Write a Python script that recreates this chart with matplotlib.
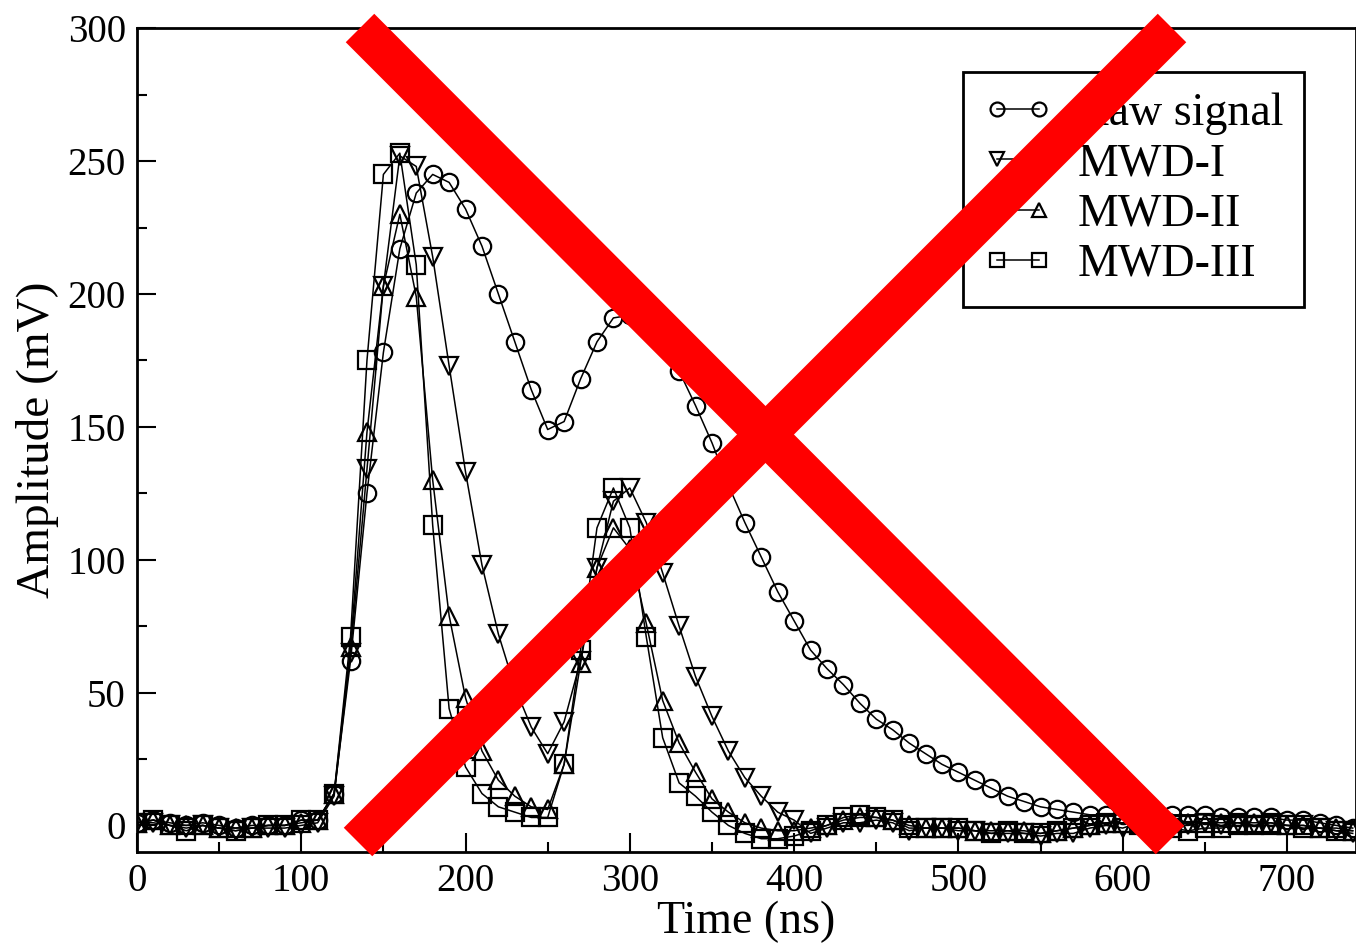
import numpy as np
import matplotlib
matplotlib.use("Agg")
import matplotlib.pyplot as plt
from matplotlib.lines import Line2D
from matplotlib.ticker import MultipleLocator

plt.rcParams['font.family'] = ['Liberation Serif', 'DejaVu Serif']

# sampling times (ns)
time_ns = np.arange(0, 750, 10)

raw_signal = [1, 2, 1, 0, 1, 0, -1, 0, 0, 0, 2, 2, 12, 62, 125, 178, 217, 238, 245, 242,
              232, 218, 200, 182, 164, 149, 152, 168, 182, 191, 192, 188, 181, 171, 158, 144,
              128, 114, 101, 88, 77, 66, 59, 53, 46, 40, 36, 31, 27, 23, 20, 17, 14, 11, 9,
              7, 6, 5, 4, 4, 4, 4, 4, 4, 4, 4, 3, 3, 3, 3, 2, 2, 1, 0, -1]

mwd_1 = [1, 1, 0, -1, 0, -1, -2, -1, -1, -1, 0, 1, 11, 65, 134, 203, 252, 248, 214, 173,
         133, 98, 72, 52, 37, 27, 39, 62, 97, 122, 127, 114, 95, 75, 56, 41,
         28, 18, 11, 5, 2, -3, -1, 1, 1, 2, 1, -2, -1, -1, -2, -2, -3, -3, -3,
         -4, -3, -3, -1, 0, -1, 1, 1, 0, 0, 1, 0, 1, 0, 1, 0, 0, -1, -2, -3]

mwd_2 = [1, 2, 0, 0, 0, -1, -1, -1, 0, 0, 1, 2, 12, 67, 148, 203, 230, 199, 130, 79,
         48, 28, 17, 11, 7, 6, 23, 61, 97, 112, 104, 76, 47, 31, 20, 10,
         5, 1, -1, -2, -2, -1, 0, 2, 3, 3, 2, 0, -1, -1, -1, -2, -2, -2, -2,
         -3, -2, -1, 0, 1, 1, 1, 1, 1, 1, 1, 1, 1, 1, 1, 0, 0, -1, -1, -2]

mwd_3 = [1, 2, 0, -2, 0, -1, -2, -1, 0, 0, 2, 2, 12, 71, 175, 245, 253, 211, 113, 44,
         22, 12, 7, 5, 3, 3, 23, 66, 112, 127, 112, 71, 33, 16, 11, 5,
         0, -3, -5, -5, -4, -2, 0, 3, 4, 3, 2, -1, -1, -1, -1, -2, -3, -2, -3,
         -3, -2, -1, 0, 1, 1, 0, 0, -1, -2, -1, -1, 0, 0, 0, 0, -1, -1, -2, -2]

labels = ['Raw signal', 'MWD-I', 'MWD-II', 'MWD-III']
markers = ['o', 'v', '^', 's']

fig = plt.figure(figsize=(13.56, 9.43), dpi=100)
ax = fig.add_axes([0.101, 0.0965, 0.899, 0.8735])

for y, lab, m in zip([raw_signal, mwd_1, mwd_2, mwd_3], labels, markers):
    ax.plot(time_ns, y, color='black', lw=1.1, marker=m, markersize=12.5,
            fillstyle='none', markeredgewidth=1.6, label=lab)

ax.set_xlim(0, 742)
ax.set_ylim(-10, 300)
ax.xaxis.set_major_locator(MultipleLocator(100))
ax.xaxis.set_minor_locator(MultipleLocator(50))
ax.yaxis.set_major_locator(MultipleLocator(50))
ax.yaxis.set_minor_locator(MultipleLocator(25))
ax.tick_params(which='both', direction='in', labelsize=28, width=1.5)
ax.tick_params(which='major', length=14, pad=8)
ax.tick_params(which='minor', length=7)
for s in ax.spines.values():
    s.set_linewidth(2)

ax.set_xlabel('Time (ns)', fontsize=33, labelpad=0)
ax.set_ylabel('Amplitude (mV)', fontsize=34, labelpad=6)

leg = ax.legend(loc='upper right', bbox_to_anchor=(0.957, 0.947), fontsize=33,
                numpoints=2, handlelength=1.5, markerscale=0.8, fancybox=False,
                framealpha=1, edgecolor='black', borderpad=0.45, labelspacing=0.17,
                handletextpad=0.55, borderaxespad=0)
leg.get_frame().set_linewidth(2)

# red cross overlay
fw, fh = 1356.0, 943.0
for (x0, y0), (x1, y1) in [((360, 28), (1170, 840)), ((358, 842), (1172, 28))]:
    fig.add_artist(Line2D([x0 / fw, x1 / fw], [1 - y0 / fh, 1 - y1 / fh],
                          transform=fig.transFigure, color='red', lw=29,
                          solid_capstyle='butt', zorder=10))

fig.savefig('out.png', dpi=100)
